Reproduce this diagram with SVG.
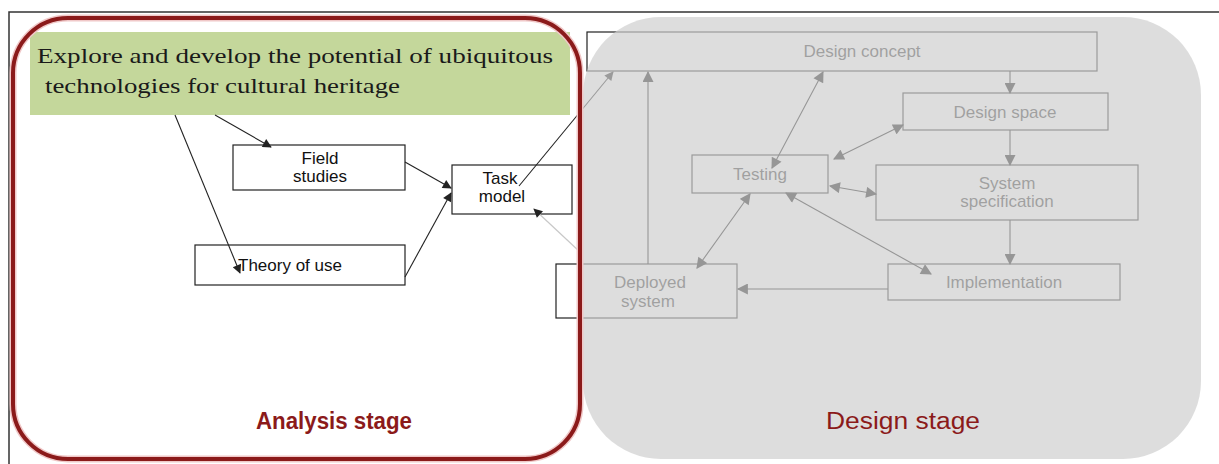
<svg xmlns="http://www.w3.org/2000/svg" width="1219" height="464" viewBox="0 0 1219 464">
  <style>
    .frame { fill: none; stroke: #333; stroke-width: 1.5; }
    .box { fill: none; stroke: #222; stroke-width: 1.2; }
    .lbl { font-family: "Liberation Sans", Arial, sans-serif; font-size: 17px; fill: #111; text-anchor: middle; }
    .dlbl { font-family: "Liberation Sans", Arial, sans-serif; font-size: 17px; fill: #333; text-anchor: middle; }
    .goal { font-family: "Liberation Serif", "Times New Roman", serif; font-size: 22px; fill: #1a1a1a; }
    .stage { font-family: "Liberation Sans Narrow", "Liberation Sans", Arial, sans-serif; font-size: 23px; fill: #8B1A1A; text-anchor: middle; }
    .edge { fill: none; stroke: #222; stroke-width: 1.1; marker-end: url(#ah); }
    .dedge { fill: none; stroke: #111; stroke-width: 1.1; marker-end: url(#ahd); }
    .both { marker-start: url(#ahd); }
  </style>
  <defs>
    <marker id="ah" viewBox="0 0 10 10" refX="9" refY="5" markerWidth="11" markerHeight="9" markerUnits="userSpaceOnUse" orient="auto-start-reverse">
      <path d="M0,0 L10,5 L0,10 Z" fill="#222"/>
    </marker>
    <marker id="ahd" viewBox="0 0 10 10" refX="9" refY="5" markerWidth="12" markerHeight="11" markerUnits="userSpaceOnUse" orient="auto-start-reverse">
      <path d="M0,0 L10,5 L0,10 Z" fill="#111"/>
    </marker>
  </defs>

  <rect width="1219" height="464" fill="#fff"/>
  <!-- outer frame (top and left edges) -->
  <path class="frame" d="M9,464 L9,12 L1219,12"/>

  <!-- goal banner -->
  <g id="goal">
    <rect x="30" y="32" width="540" height="83" fill="#C4D79B"/>
    <text class="goal" x="37" y="63" textLength="516" lengthAdjust="spacingAndGlyphs">Explore and develop the potential of ubiquitous</text>
    <text class="goal" x="45" y="93" textLength="355" lengthAdjust="spacingAndGlyphs">technologies for cultural heritage</text>
  </g>

  <!-- analysis stage nodes -->
  <g id="field-studies">
    <rect class="box" x="233" y="145" width="172" height="45"/>
    <text class="lbl" x="320" y="164">Field</text>
    <text class="lbl" x="320" y="182">studies</text>
  </g>
  <g id="task-model">
    <rect class="box" x="452" y="165" width="120" height="49"/>
    <text class="lbl" x="500" y="184">Task</text>
    <text class="lbl" x="502" y="202">model</text>
  </g>
  <g id="theory-of-use">
    <rect class="box" x="195" y="245" width="210" height="40"/>
    <text class="lbl" x="290" y="271">Theory of use</text>
  </g>

  <!-- design stage nodes (drawn dark, then veiled by the stage panel) -->
  <g id="design-concept">
    <rect class="box" x="587" y="32" width="510" height="39"/>
    <text class="dlbl" x="862" y="57">Design concept</text>
  </g>
  <g id="design-space">
    <rect class="box" x="903" y="93" width="205" height="37"/>
    <text class="dlbl" x="1005" y="118">Design space</text>
  </g>
  <g id="testing">
    <rect class="box" x="692" y="155" width="136" height="38"/>
    <text class="dlbl" x="760" y="180">Testing</text>
  </g>
  <g id="system-specification">
    <rect class="box" x="876" y="165" width="262" height="55"/>
    <text class="dlbl" x="1007" y="189">System</text>
    <text class="dlbl" x="1007" y="207">specification</text>
  </g>
  <g id="implementation">
    <rect class="box" x="888" y="264" width="232" height="36"/>
    <text class="dlbl" x="1004" y="288">Implementation</text>
  </g>
  <g id="deployed-system">
    <rect class="box" x="556" y="264" width="181" height="54"/>
    <text class="dlbl" x="650" y="288">Deployed</text>
    <text class="dlbl" x="648" y="307">system</text>
  </g>

  <!-- connectors -->
  <g id="connectors">
    <path class="edge" d="M175,115 L240,273"/>
    <path class="edge" d="M215,115 L271,147"/>
    <path class="edge" d="M405,162 L451,188"/>
    <path class="edge" d="M405,277 L451,193"/>
    <path class="edge" d="M519,186 L613,72"/>
    <path d="M580,252 L534,209" fill="none" stroke="#c8c8c8" stroke-width="1.2" marker-end="url(#ah)"/>

    <path class="dedge" d="M648,264 L648,72"/>
    <path class="dedge" d="M1010,71 L1010,93"/>
    <path class="dedge" d="M1010,130 L1010,165"/>
    <path class="dedge" d="M1010,220 L1010,264"/>
    <path class="dedge" d="M888,289 L738,289"/>
    <path class="dedge both" d="M772,168 L823,72"/>
    <path class="dedge both" d="M834,159 L903,125"/>
    <path class="dedge both" d="M830,186 L876,194"/>
    <path class="dedge both" d="M750,194 L697,268"/>
    <path class="dedge both" d="M786,193 L931,274"/>
  </g>

  <!-- design stage panel veiling the design nodes -->
  <rect id="design-panel" x="583" y="17" width="618" height="442" rx="78" ry="78" fill="#CFCFCF" fill-opacity="0.7"/>

  <!-- analysis stage outline -->
  <rect x="13" y="18" width="567" height="441" rx="55" ry="55" fill="none" stroke="#F0C8C8" stroke-width="7"/>
  <rect id="analysis-panel" x="13" y="18" width="567" height="441" rx="55" ry="55" fill="none" stroke="#8B1A1A" stroke-width="4"/>

  <!-- stage labels -->
  <text class="stage" x="334" y="429" font-weight="bold" textLength="156" lengthAdjust="spacingAndGlyphs">Analysis  stage</text>
  <text class="stage" x="903" y="429" textLength="154" lengthAdjust="spacingAndGlyphs">Design stage</text>
</svg>
